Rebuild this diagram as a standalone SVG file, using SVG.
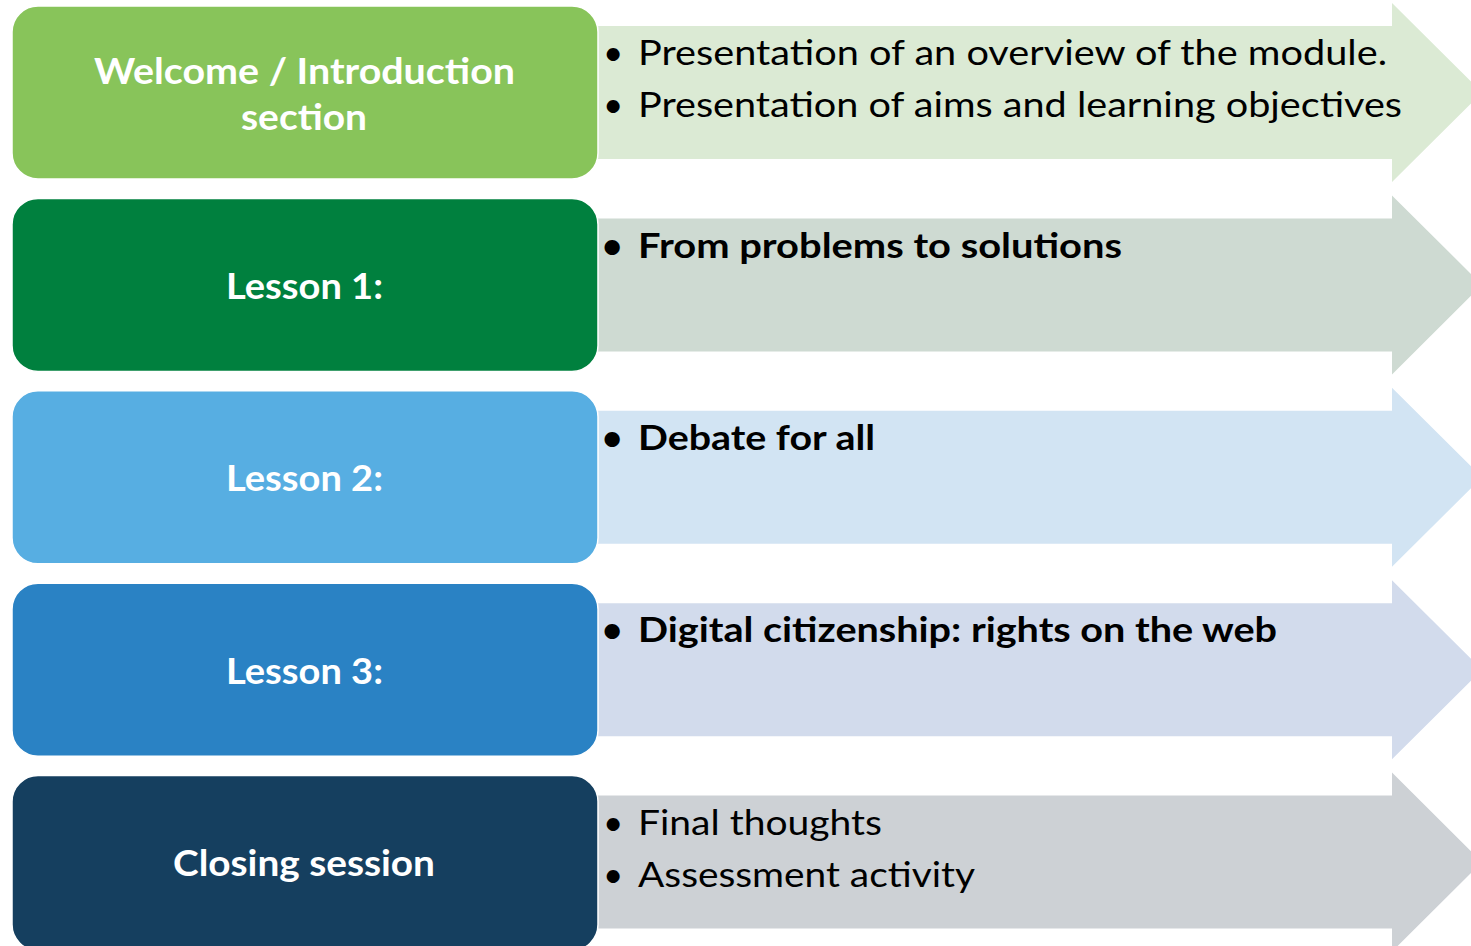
<svg xmlns="http://www.w3.org/2000/svg" width="1471" height="946" viewBox="0 0 1471 946">
<style>
.box{stroke:#ffffff;stroke-width:1.5}
.bt{font-family:Lato,"Open Sans","Liberation Sans",sans-serif;font-weight:bold;font-size:36px;fill:#ffffff;text-anchor:middle}
.at{font-family:Lato,"Open Sans","Liberation Sans",sans-serif;font-size:35px;fill:#000000}
.ab{font-weight:bold}
</style>
<rect width="1471" height="946" fill="#ffffff"/>
<g id="connectors">
<path id="arrow1" d="M560 26 H1392 V3 L1482 92.5 L1392 182 V159 H560 Z" fill="#DBEAD4"/>
<path id="arrow2" d="M560 218.4 H1392 V195.4 L1482 284.9 L1392 374.4 V351.4 H560 Z" fill="#CEDAD2"/>
<path id="arrow3" d="M560 410.8 H1392 V387.8 L1482 477.3 L1392 566.8 V543.8 H560 Z" fill="#D2E4F3"/>
<path id="arrow4" d="M560 603.2 H1392 V580.2 L1482 669.7 L1392 759.2 V736.2 H560 Z" fill="#D2DBEC"/>
<path id="arrow5" d="M560 795.6 H1392 V772.6 L1482 862.1 L1392 951.6 V928.6 H560 Z" fill="#CDD1D5"/>
</g>
<g id="node1">
<rect class="box" x="12" y="6" width="586" height="173" rx="26" fill="#88C45A"/>
<text class="bt" x="304.5" y="84" textLength="421" lengthAdjust="spacingAndGlyphs">Welcome / Introduction</text>
<text class="bt" x="304" y="130" textLength="126" lengthAdjust="spacingAndGlyphs">section</text>
</g>
<g id="node2">
<rect class="box" x="12" y="198.4" width="586" height="173" rx="26" fill="#00803E"/>
<text class="bt" x="304.5" y="298.5" textLength="157" lengthAdjust="spacingAndGlyphs">Lesson 1:</text>
</g>
<g id="node3">
<rect class="box" x="12" y="390.8" width="586" height="173" rx="26" fill="#57AEE2"/>
<text class="bt" x="304.5" y="491" textLength="157" lengthAdjust="spacingAndGlyphs">Lesson 2:</text>
</g>
<g id="node4">
<rect class="box" x="12" y="583.2" width="586" height="173" rx="26" fill="#2A82C4"/>
<text class="bt" x="304.5" y="683.5" textLength="157" lengthAdjust="spacingAndGlyphs">Lesson 3:</text>
</g>
<g id="node5">
<rect class="box" x="12" y="775.6" width="586" height="175" rx="26" fill="#153F5F"/>
<text class="bt" x="304" y="876" textLength="262" lengthAdjust="spacingAndGlyphs">Closing session</text>
</g>
<g id="text1">
<text class="at" x="603" y="65">•</text>
<text class="at" x="638" y="65" textLength="749" lengthAdjust="spacingAndGlyphs">Presentation of an overview of the module.</text>
<text class="at" x="603" y="117">•</text>
<text class="at" x="638" y="117" textLength="764" lengthAdjust="spacingAndGlyphs">Presentation of aims and learning objectives</text>
</g>
<g id="text2">
<text class="at ab" x="602" y="258">•</text>
<text class="at ab" x="638" y="258" textLength="484" lengthAdjust="spacingAndGlyphs">From problems to solutions</text>
</g>
<g id="text3">
<text class="at ab" x="602" y="450">•</text>
<text class="at ab" x="638" y="450" textLength="237" lengthAdjust="spacingAndGlyphs">Debate for all</text>
</g>
<g id="text4">
<text class="at ab" x="602" y="642">•</text>
<text class="at ab" x="638" y="642" textLength="639" lengthAdjust="spacingAndGlyphs">Digital citizenship: rights on the web</text>
</g>
<g id="text5">
<text class="at" x="603" y="835">•</text>
<text class="at" x="638" y="835" textLength="244" lengthAdjust="spacingAndGlyphs">Final thoughts</text>
<text class="at" x="603" y="887">•</text>
<text class="at" x="638" y="887" textLength="337" lengthAdjust="spacingAndGlyphs">Assessment activity</text>
</g>
</svg>
